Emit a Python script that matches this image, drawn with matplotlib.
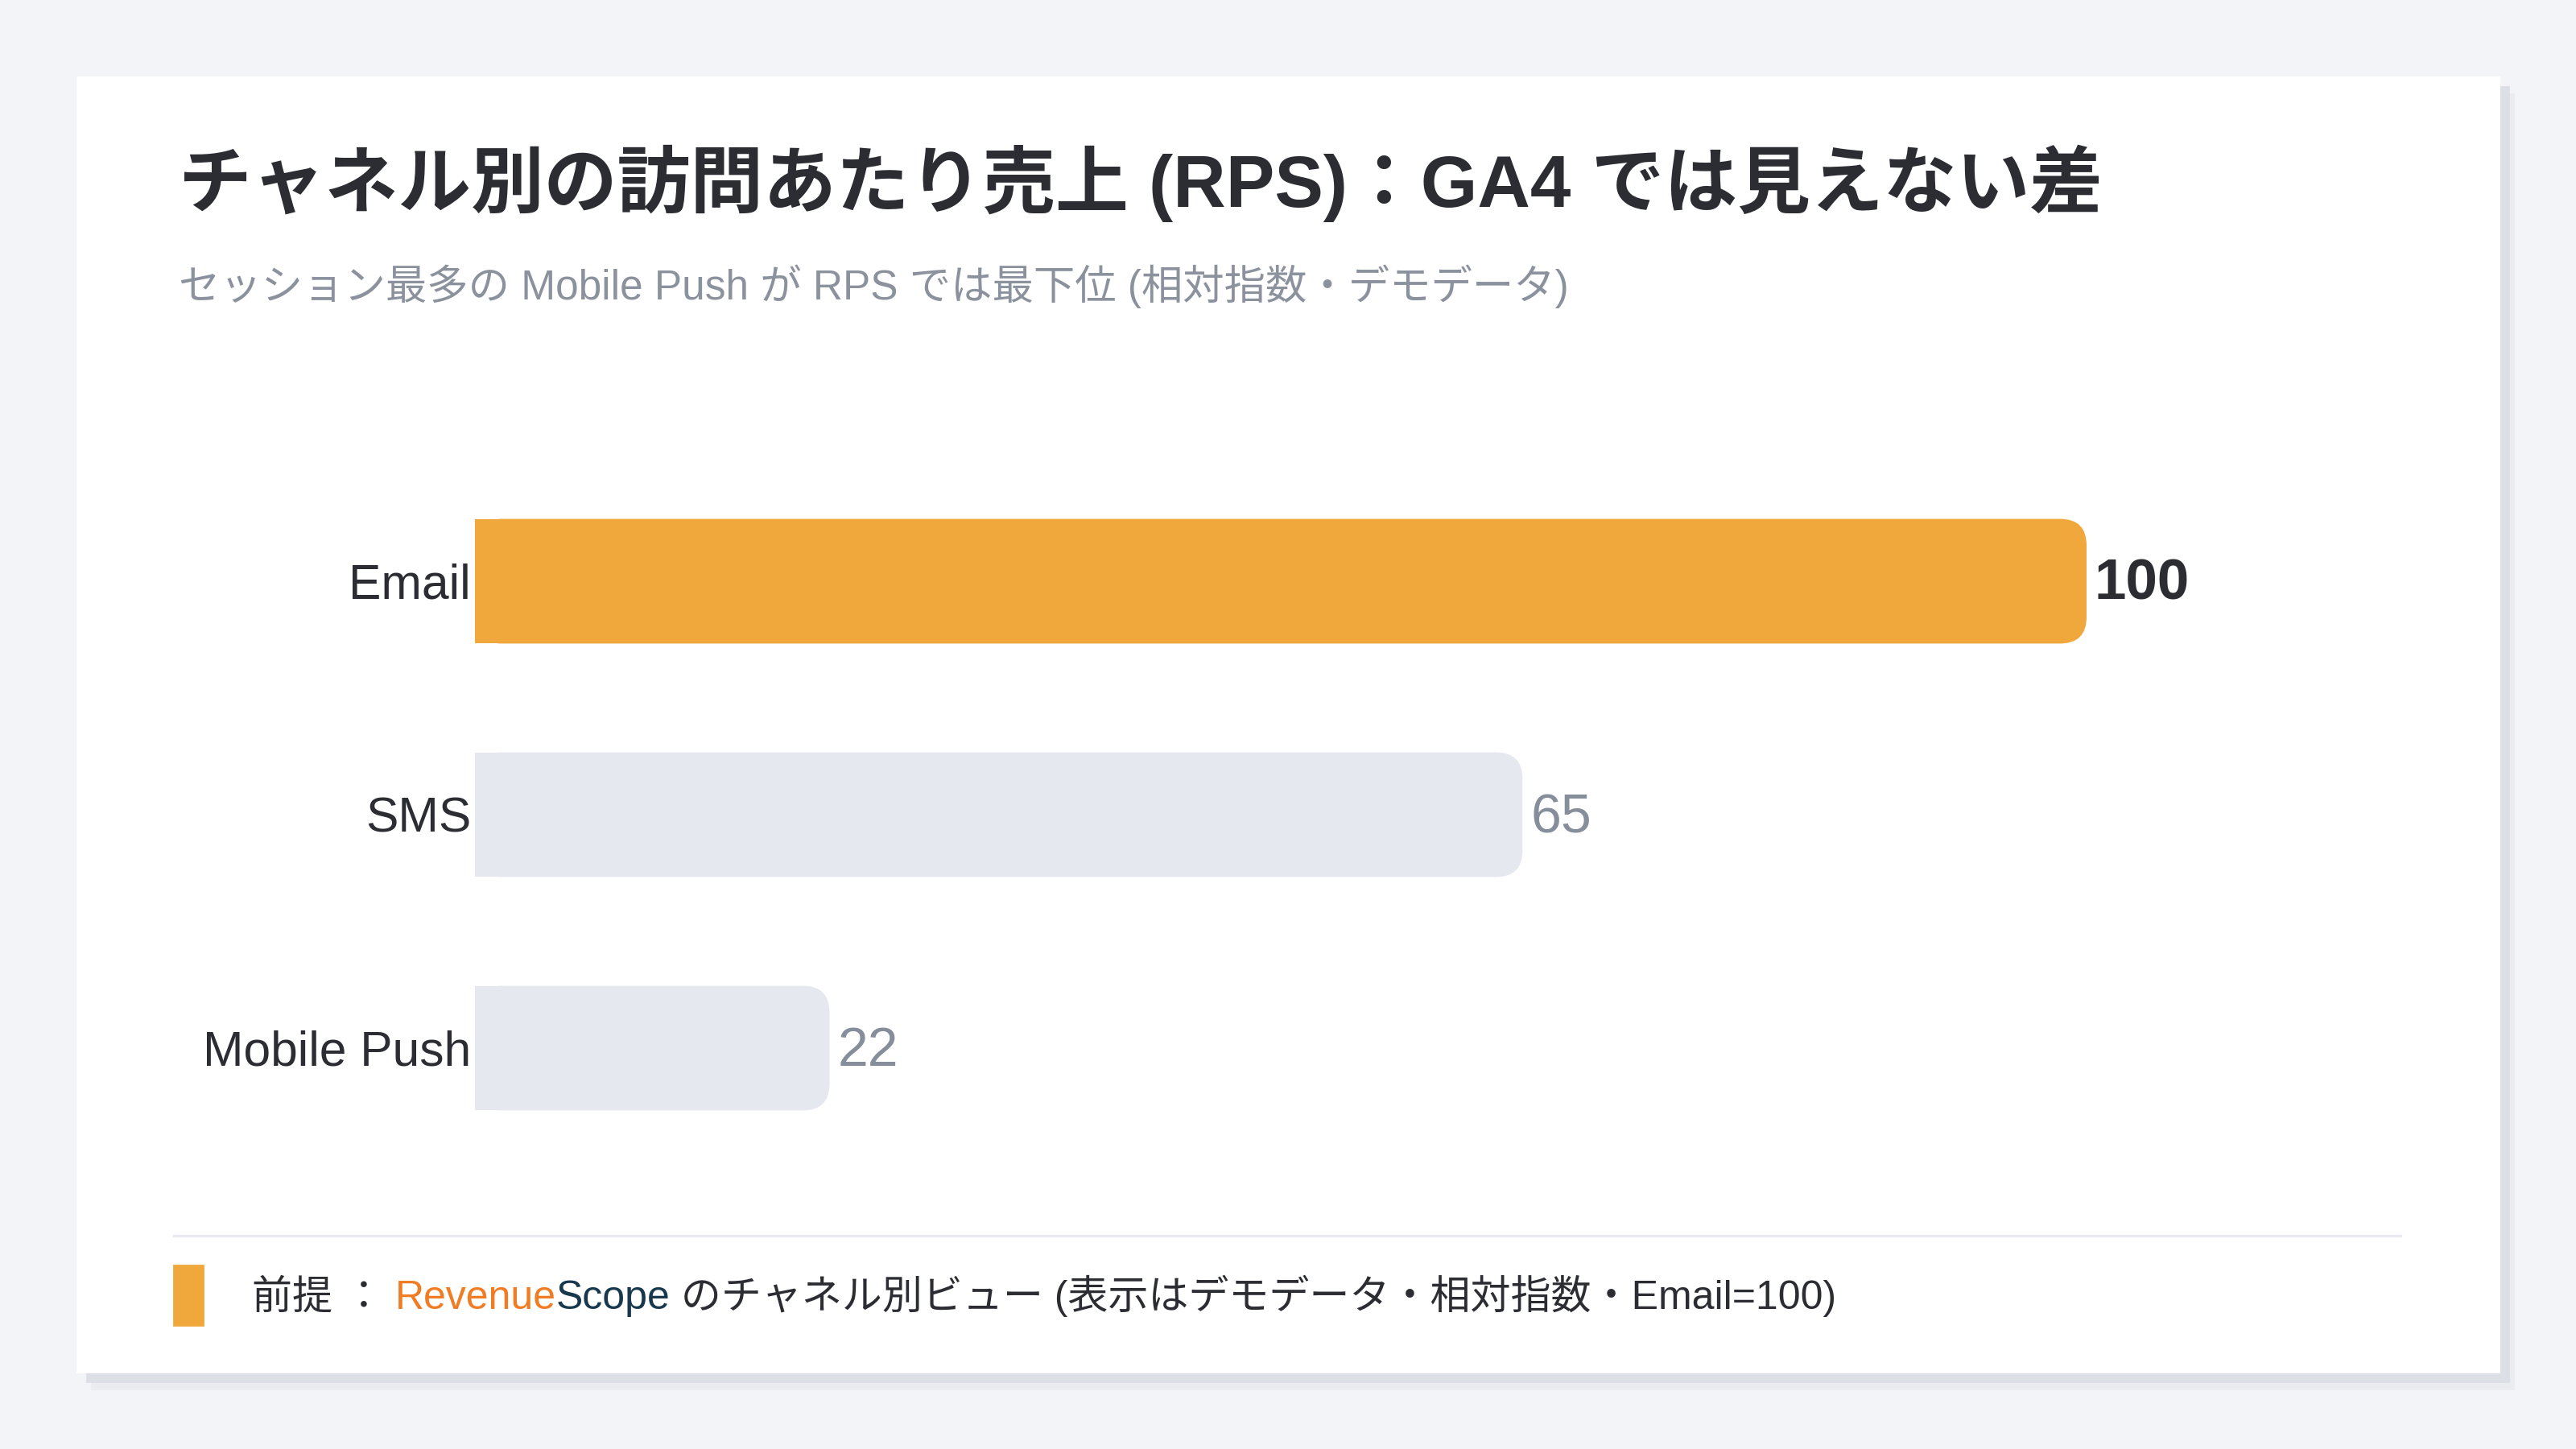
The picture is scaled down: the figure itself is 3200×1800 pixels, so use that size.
import matplotlib.pyplot as plt
from matplotlib.patches import Rectangle, FancyBboxPatch
from matplotlib.lines import Line2D

# データ (相対指数, Email=100)
channels = ["Email", "SMS", "Mobile Push"]
rps_index = [100, 65, 22]
bar_colors = ["#f0a83c", "#e5e8ef", "#e5e8ef"]
value_colors = ["#2b2d33", "#868e9c", "#868e9c"]
value_weights = ["bold", "normal", "normal"]
value_sizes = [25.5, 24.5, 24.5]

title = "チャネル別の訪問あたり売上 (RPS)：GA4 では見えない差"
subtitle = "セッション最多の Mobile Push が RPS では最下位 (相対指数・デモデータ)"
footer_parts = [
    ("前提 ： ", "#2b2d33"),
    ("Revenue", "#f07c24"),
    ("Scope", "#17384d"),
    (" のチャネル別ビュー (表示はデモデータ・相対指数・Email=100)", "#2b2d33"),
]

W, H = 3200, 1800


def fx(x):
    return x / W


def fy(y):
    return 1 - y / H


plt.rcParams['font.family'] = ['Liberation Sans', 'Noto Sans CJK JP', 'DejaVu Sans']

fig = plt.figure(figsize=(16, 9), dpi=200, facecolor="#f3f4f8")

# carte blanche + ombre (derrière les axes)
for dx, dy, c in [(18, 21, "#eaecf0"), (12, 12, "#dcdfe5")]:
    fig.patches.append(Rectangle((fx(96 + dx), fy(1704 + dy)), 3008 / W, 1608 / H,
                                 transform=fig.transFigure, color=c, zorder=-3))
fig.patches.append(Rectangle((fx(96), fy(1704)), 3008 / W, 1608 / H,
                             transform=fig.transFigure, color="white", zorder=-2))

# titres
fig.text(fx(222), fy(257), title, fontsize=32.7, fontweight='bold', color="#2b2d33", va='baseline')
fig.text(fx(222), fy(372), subtitle, fontsize=18.5, color="#8b929e", va='baseline')

# barres
ax = fig.add_axes([fx(590), fy(1447), 2002 / W, 870 / H])
ax.set_zorder(2)
ax.set_facecolor("none")
ax.set_xlim(0, 100)
ax.set_ylim(2.5, -0.5)
pos = list(range(len(channels)))
bars = ax.barh(pos, rps_index, height=0.534, color=bar_colors)

# coins arrondis à droite seulement
x_aspect = (2002 / 100) / (870 / 3)
for b, col in zip(bars, bar_colors):
    b.set_visible(False)
    x0, y0, w, h = b.get_x(), b.get_y(), b.get_width(), b.get_height()
    r = 1.65
    ax.add_patch(FancyBboxPatch((x0, y0), w, h, boxstyle=f"round,pad=0,rounding_size={r}",
                                mutation_aspect=x_aspect, facecolor=col, edgecolor="none"))
    ax.add_patch(Rectangle((x0, y0), w / 2, h, facecolor=col, edgecolor="none"))

for i, v in enumerate(rps_index):
    ax.annotate(str(v), (v, i), xytext=(3.5, -1.5), textcoords='offset points',
                va='center', ha='left', fontsize=value_sizes[i], color=value_colors[i],
                fontweight=value_weights[i])

ax.set_yticks(pos, channels, fontsize=21.8, color="#2b2d33")
ax.tick_params(axis='y', length=0, pad=1.8)
ax.set_xticks([])
for s in ax.spines.values():
    s.set_visible(False)

# pied de page
fig.add_artist(Line2D([fx(216), fx(2982)], [fy(1535), fy(1535)], color="#e8eaef", lw=1.2))
fig.patches.append(Rectangle((fx(216), fy(1646)), 36 / W, 74 / H,
                             transform=fig.transFigure, color="#f0a83c"))

renderer = fig.canvas.get_renderer()
x = fx(313)
for txt, col in footer_parts:
    t = fig.text(x, fy(1626), txt, color=col, fontsize=18, va='baseline')
    bb = t.get_window_extent(renderer)
    x = bb.x1 / W

fig.savefig("out.png", dpi=200, facecolor=fig.get_facecolor())
